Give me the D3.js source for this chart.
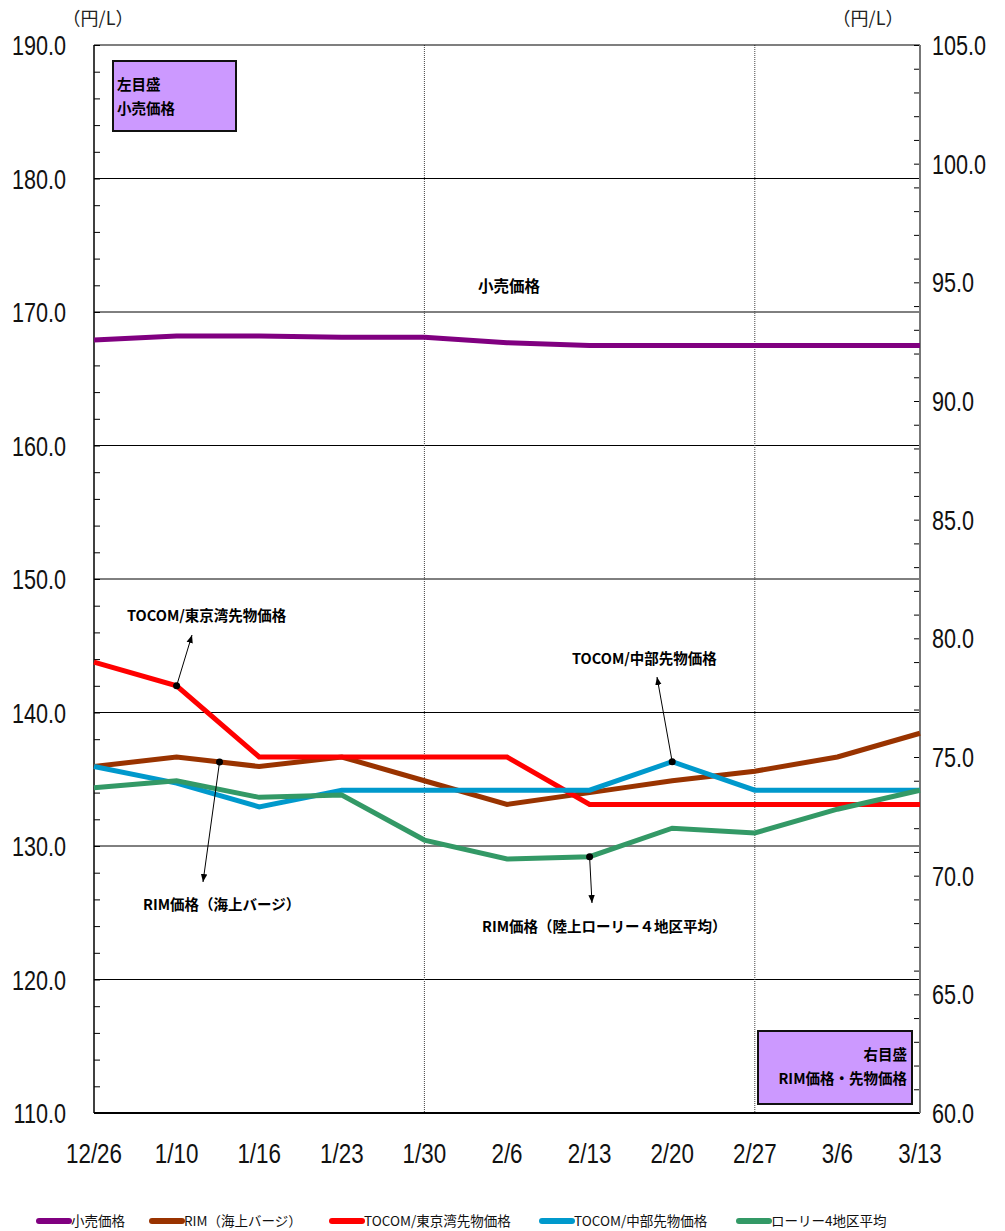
<!DOCTYPE html>
<html>
<head>
<meta charset="utf-8">
<script src="https://cdn.jsdelivr.net/npm/d3@7"></script>
<style>
  body { margin: 0; background: #fff; }
  .num { font-family: "Liberation Sans", sans-serif; fill: #111; }
  .jp { font-family: "Noto Sans CJK JP", sans-serif; }
</style>
</head>
<body>
<div id="chart"></div>
<script>
const dates = ["12/26", "1/10", "1/16", "1/23", "1/30", "2/6", "2/13", "2/20", "2/27", "3/6", "3/13"];

// left axis (円/L)
const retail = [167.9, 168.2, 168.2, 168.1, 168.1, 167.7, 167.5, 167.5, 167.5, 167.5, 167.5];

// right axis (円/L)
const rimBarge = [74.6, 75.0, 74.6, 75.0, 74.0, 73.0, 73.5, 74.0, 74.4, 75.0, 76.0];
const tocomTokyo = [79.0, 78.0, 75.0, 75.0, 75.0, 75.0, 73.0, 73.0, 73.0, 73.0, 73.0];
const tocomChubu = [74.6, 73.9, 72.9, 73.6, 73.6, 73.6, 73.6, 74.8, 73.6, 73.6, 73.6];
const lorry = [73.7, 74.0, 73.3, 73.4, 71.5, 70.7, 70.8, 72.0, 71.8, 72.8, 73.6];

const leftTicks = [110, 120, 130, 140, 150, 160, 170, 180, 190];
const rightTicks = [60, 65, 70, 75, 80, 85, 90, 95, 100, 105];

const series = [
  { name: "小売価格", values: retail, axis: "left", color: "#800080" },
  { name: "RIM（海上バージ）", values: rimBarge, axis: "right", color: "#993300" },
  { name: "TOCOM/東京湾先物価格", values: tocomTokyo, axis: "right", color: "#ff0000" },
  { name: "TOCOM/中部先物価格", values: tocomChubu, axis: "right", color: "#0099cc" },
  { name: "ローリー4地区平均", values: lorry, axis: "right", color: "#339966" }
];

const W = 1005, H = 1231;
const plot = { left: 94, right: 920, top: 45, bottom: 1113 };

const svg = d3.select("#chart").append("svg")
  .attr("width", W).attr("height", H);

const x = d3.scalePoint().domain(dates).range([plot.left, plot.right]);
const yL = d3.scaleLinear().domain([110, 190]).range([plot.bottom, plot.top]);
const yR = d3.scaleLinear().domain([60, 105]).range([plot.bottom, plot.top]);

// horizontal grid
svg.append("g").selectAll("line")
  .data(leftTicks.filter(t => t > 110 && t < 190))
  .join("line")
  .attr("x1", plot.left).attr("x2", plot.right)
  .attr("y1", d => yL(d)).attr("y2", d => yL(d))
  .attr("stroke", "#000").attr("stroke-width", 1);

// vertical dotted lines
svg.append("g").selectAll("line")
  .data(["1/30", "2/27"])
  .join("line")
  .attr("x1", d => x(d)).attr("x2", d => x(d))
  .attr("y1", plot.top).attr("y2", plot.bottom)
  .attr("stroke", "#444").attr("stroke-width", 1)
  .attr("stroke-dasharray", "1,1");

// left axis: minor ticks every 2
const leftAxis = svg.append("g").attr("transform", `translate(${plot.left},0)`)
  .call(d3.axisRight(yL).tickValues(d3.range(110, 191, 2)).tickSize(6).tickFormat(""));
leftAxis.select(".domain").remove();
leftAxis.selectAll("line").attr("stroke", "#000");

// right axis: minor ticks every 1
const rightAxis = svg.append("g").attr("transform", `translate(${plot.right},0)`)
  .call(d3.axisLeft(yR).tickValues(d3.range(60, 106, 1)).tickSize(6).tickFormat(""));
rightAxis.select(".domain").remove();
rightAxis.selectAll("line").attr("stroke", "#000");

// frame
svg.append("line").attr("x1", plot.left).attr("x2", plot.right)
  .attr("y1", plot.top).attr("y2", plot.top).attr("stroke", "#000").attr("stroke-width", 1.2);
svg.append("line").attr("x1", plot.left).attr("x2", plot.right)
  .attr("y1", plot.bottom).attr("y2", plot.bottom).attr("stroke", "#000").attr("stroke-width", 2);
svg.append("line").attr("x1", plot.left).attr("x2", plot.left)
  .attr("y1", plot.top).attr("y2", plot.bottom).attr("stroke", "#000").attr("stroke-width", 1.5);
svg.append("line").attr("x1", plot.right).attr("x2", plot.right)
  .attr("y1", plot.top).attr("y2", plot.bottom).attr("stroke", "#777").attr("stroke-width", 2);

// tick labels (narrowed to mimic the condensed face)
svg.append("g").selectAll("text")
  .data(leftTicks).join("text")
  .attr("class", "num")
  .attr("transform", d => `translate(66,${yL(d) + 10}) scale(0.8,1)`)
  .attr("text-anchor", "end").attr("font-size", 27)
  .text(d => d.toFixed(1));

svg.append("g").selectAll("text")
  .data(rightTicks).join("text")
  .attr("class", "num")
  .attr("transform", d => `translate(932,${yR(d) + 10}) scale(0.8,1)`)
  .attr("text-anchor", "start").attr("font-size", 27)
  .text(d => d.toFixed(1));

svg.append("g").selectAll("text")
  .data(dates).join("text")
  .attr("class", "num")
  .attr("transform", d => `translate(${x(d)},1163) scale(0.8,1)`)
  .attr("text-anchor", "middle").attr("font-size", 28)
  .text(d => d);

// units
svg.append("text").attr("class", "jp").attr("x", 98).attr("y", 25)
  .attr("text-anchor", "middle").attr("font-size", 18).attr("fill", "#222").text("（円/L）");
svg.append("text").attr("class", "jp").attr("x", 868).attr("y", 25)
  .attr("text-anchor", "middle").attr("font-size", 18).attr("fill", "#222").text("（円/L）");

// lines
series.forEach(s => {
  const yS = s.axis === "left" ? yL : yR;
  const line = d3.line().x((d, i) => x(dates[i])).y(d => yS(d));
  svg.append("path")
    .datum(s.values)
    .attr("fill", "none")
    .attr("stroke", s.color)
    .attr("stroke-width", 5)
    .attr("stroke-linejoin", "miter")
    .attr("d", line);
});

// boxes
function box(x0, y0, w, h, lines, anchor) {
  svg.append("rect").attr("x", x0).attr("y", y0).attr("width", w).attr("height", h)
    .attr("fill", "#cc99ff").attr("stroke", "#111").attr("stroke-width", 2);
  lines.forEach((t, i) => {
    svg.append("text").attr("class", "jp")
      .attr("x", anchor === "end" ? x0 + w - 5 : x0 + 4)
      .attr("y", y0 + 29 + i * 24)
      .attr("text-anchor", anchor)
      .attr("font-size", 14.5).attr("font-weight", "bold").attr("fill", "#000")
      .text(t);
  });
}
box(113, 61, 123, 70, ["左目盛", "小売価格"], "start");
box(758, 1031, 154, 73, ["右目盛", "RIM価格・先物価格"], "end");

// annotations
svg.append("defs").append("marker")
  .attr("id", "arrow").attr("viewBox", "0 0 10 10")
  .attr("refX", 10).attr("refY", 5)
  .attr("markerWidth", 8).attr("markerHeight", 8)
  .attr("orient", "auto")
  .append("path").attr("d", "M0,1 L10,5 L0,9 z").attr("fill", "#000");

function pointOn(values, yS, i, t) {
  const xa = x(dates[i]), xb = x(dates[i + 1] || dates[i]);
  const va = values[i], vb = values[i + 1] !== undefined ? values[i + 1] : values[i];
  return [xa + (xb - xa) * t, yS(va + (vb - va) * t)];
}

const notes = [
  { text: "小売価格", tx: 478, ty: 292, size: 15.5 },
  { text: "TOCOM/東京湾先物価格", tx: 127, ty: 621, values: tocomTokyo, i: 1, t: 0, end: [192, 635] },
  { text: "RIM価格（海上バージ）", tx: 143, ty: 910, values: rimBarge, i: 1, t: 0.52, end: [203, 882] },
  { text: "TOCOM/中部先物価格", tx: 572, ty: 664, values: tocomChubu, i: 7, t: 0, end: [657, 677] },
  { text: "RIM価格（陸上ローリー４地区平均）", tx: 482, ty: 932, values: lorry, i: 6, t: 0, end: [592, 903] }
];

notes.forEach(n => {
  svg.append("text").attr("class", "jp")
    .attr("x", n.tx).attr("y", n.ty)
    .attr("font-size", n.size || 14.5).attr("font-weight", "bold").attr("fill", "#000")
    .text(n.text);
  if (n.values) {
    const p = pointOn(n.values, yR, n.i, n.t);
    svg.append("line")
      .attr("x1", p[0]).attr("y1", p[1])
      .attr("x2", n.end[0]).attr("y2", n.end[1])
      .attr("stroke", "#000").attr("stroke-width", 1)
      .attr("marker-end", "url(#arrow)");
    svg.append("circle").attr("cx", p[0]).attr("cy", p[1]).attr("r", 3.5).attr("fill", "#000");
  }
});

// legend
const legendX = [37, 150, 330, 540, 737];
const legend = svg.append("g").selectAll("g")
  .data(series).join("g")
  .attr("transform", (d, i) => `translate(${legendX[i]},1221)`);
legend.append("line")
  .attr("x1", 2).attr("x2", 32).attr("y1", 0).attr("y2", 0)
  .attr("stroke", d => d.color).attr("stroke-width", 6).attr("stroke-linecap", "round");
legend.append("text").attr("class", "jp")
  .attr("x", 34).attr("y", 5)
  .attr("font-size", 13.5).attr("fill", "#111")
  .text(d => d.name);
</script>
</body>
</html>
